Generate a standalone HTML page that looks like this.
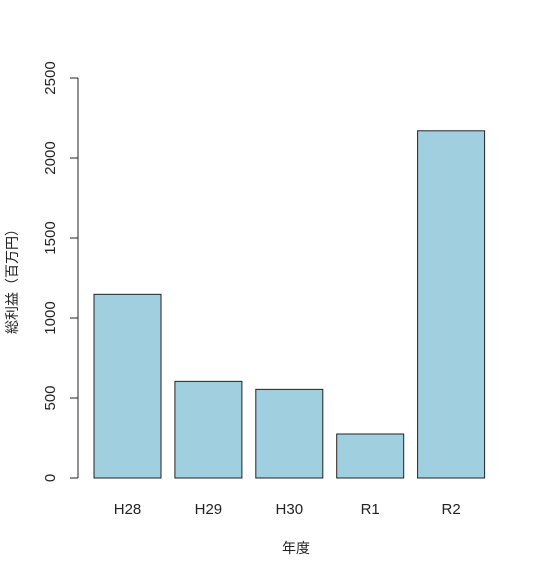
<!DOCTYPE html>
<html><head><meta charset="utf-8"><style>body{margin:0;background:#fff}svg{display:block;font-family:"Liberation Sans","Noto Sans CJK JP",sans-serif}</style></head>
<body>
<svg id="c" width="540" height="576"></svg>
<script>
const categories=["H28","H29","H30","R1","R2"];
const values=[1148,604,554,275,2170];
const ticks=[0,500,1000,1500,2000,2500];
const svg=document.getElementById('c');const NS='http://www.w3.org/2000/svg';
function y(v){return 478-v*400/2500;}
function x(i){return 94+i*80.9;}
function add(tag,a,txt){const e=document.createElementNS(NS,tag);for(const k in a)e.setAttribute(k,a[k]);if(txt!==undefined)e.textContent=txt;svg.appendChild(e);return e;}
categories.forEach((c,i)=>{
 const r=add('rect',{x:x(i),y:y(values[i]),width:67,height:y(0)-y(values[i]),fill:'#a0cfe0',stroke:'#222','stroke-width':1});
 
 
 const t=add('text',{x:x(i)+33.5,y:514,'text-anchor':'middle','font-size':15,fill:'#222'},c);
 
 
});
const ax=add('line',{x1:78,x2:78,y1:y(0),y2:y(2500),stroke:'#222'});


ticks.forEach(v=>{
 const l=add('line',{x1:70,x2:78,y1:y(v),y2:y(v),stroke:'#222'});
 
 
 const t=add('text',{x:0,y:0,transform:`translate(55,${y(v)}) rotate(-90)`,'text-anchor':'middle','font-size':15,fill:'#222'},String(v));
 
 
});
const xt=add('text',{x:296,y:553,'text-anchor':'middle','font-size':14,fill:'#222'},'年度');


const yt=add('text',{x:0,y:0,transform:'translate(17,278) rotate(-90)','text-anchor':'middle','font-size':14,fill:'#222'},'総利益（百万円）');


</script>
</body></html>
